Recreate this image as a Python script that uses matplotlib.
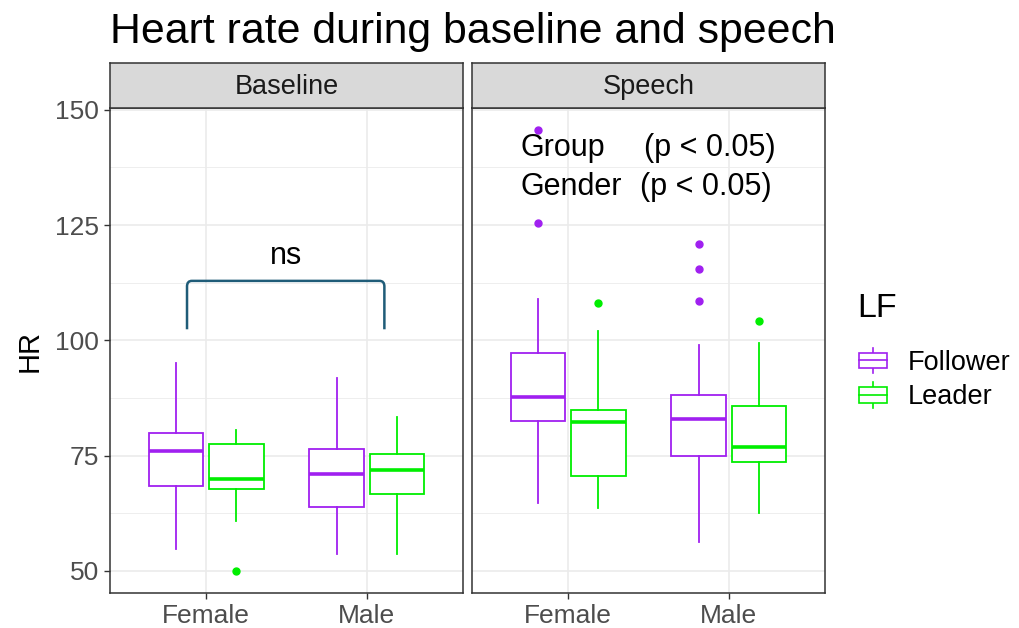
import matplotlib
matplotlib.use('Agg')
import matplotlib.pyplot as plt
from matplotlib.legend_handler import HandlerBase
from matplotlib.patches import Rectangle, Patch, PathPatch
from matplotlib.lines import Line2D
from matplotlib.path import Path

plt.rcParams['font.family'] = ['Liberation Sans', 'DejaVu Sans']

# data
phases = ['Baseline', 'Speech']
genders = ['Female', 'Male']
roles = ['Follower', 'Leader']
role_colors = ['#A020F0', '#00EE00']

# five numbers per gender: whisker low, q1, median, q3, whisker high
base_follower = [[54.8, 68.5, 75.9, 79.9, 95.1], [53.6, 63.9, 71.1, 76.5, 91.8]]
base_leader = [[60.8, 67.8, 70.0, 77.5, 80.5], [53.6, 66.6, 71.8, 75.4, 83.3]]
speech_follower = [[64.7, 82.4, 87.7, 97.2, 109.0], [56.3, 74.9, 82.9, 88.2, 98.9]]
speech_leader = [[63.7, 70.5, 82.2, 84.8, 102.1], [62.6, 73.6, 76.9, 85.7, 99.5]]

base_follower_out = [[], []]
base_leader_out = [[50.0], []]
speech_follower_out = [[145.6, 125.4], [121.0, 115.5, 108.6]]
speech_leader_out = [[108.1], [104.1]]

panel_data = {
    'Baseline': [(base_follower, base_follower_out), (base_leader, base_leader_out)],
    'Speech': [(speech_follower, speech_follower_out), (speech_leader, speech_leader_out)],
}

y_ticks = [50, 75, 100, 125, 150]
y_minor = [62.5, 87.5, 112.5, 137.5]


class BoxHandler(HandlerBase):
    # legend key drawn like a little boxplot
    def create_artists(self, legend, orig_handle, xdescent, ydescent,
                       width, height, fontsize, trans):
        c = orig_handle.get_edgecolor()
        x0, y0 = -xdescent, -ydescent
        bh = height * 0.62
        by = y0 + (height - bh) / 2
        xm = x0 + width / 2
        rect = Rectangle((x0, by), width, bh, facecolor='white', edgecolor=c,
                         lw=1.2, transform=trans)
        med = Line2D([x0, x0 + width], [by + bh / 2] * 2, color=c, lw=1.2, transform=trans)
        w1 = Line2D([xm, xm], [y0, by], color=c, lw=1.2, transform=trans)
        w2 = Line2D([xm, xm], [by + bh, y0 + height], color=c, lw=1.2, transform=trans)
        return [w1, w2, rect, med]


fig = plt.figure(figsize=(10.19, 6.28), dpi=100)

ax_left = [110 / 1019, 472 / 1019]
ax_w = 353 / 1019
ax_b = 1 - 593 / 628
ax_h = 485 / 628
strip_h = 45 / 628

axes = []
for i, phase in enumerate(phases):
    ax = fig.add_axes([ax_left[i], ax_b, ax_w, ax_h])
    axes.append(ax)

    for j, (stats5, outs) in enumerate(panel_data[phase]):
        col = role_colors[j]
        offset = -0.1875 if j == 0 else 0.1875
        stats = []
        for g in range(len(genders)):
            lo, q1, med, q3, hi = stats5[g]
            stats.append({'whislo': lo, 'q1': q1, 'med': med, 'q3': q3,
                          'whishi': hi, 'fliers': outs[g]})
        ax.bxp(stats, positions=[k + 1 + offset for k in range(len(genders))],
               widths=0.34, showcaps=False, patch_artist=True, manage_ticks=False,
               boxprops=dict(facecolor='white', edgecolor=col, lw=1.3),
               medianprops=dict(color=col, lw=2.6),
               whiskerprops=dict(color=col, lw=1.3),
               flierprops=dict(marker='o', markersize=5, markerfacecolor=col,
                               markeredgecolor=col))

    ax.set_xlim(0.4, 2.6)
    ax.set_ylim(45.2, 150.4)
    ax.set_yticks(y_ticks)
    ax.set_yticks(y_minor, minor=True)
    ax.set_xticks([1, 2])
    ax.set_xticklabels(genders)
    ax.grid(which='major', color='#EBEBEB', lw=1.2, zorder=0)
    ax.grid(which='minor', axis='y', color='#EBEBEB', lw=0.6, zorder=0)
    ax.set_axisbelow(True)
    for s in ax.spines.values():
        s.set_color('#333333')
        s.set_linewidth(1.1)
    ax.tick_params(axis='both', which='major', length=4, width=1.0, color='#333333',
                   labelsize=19, labelcolor='#4D4D4D', pad=4)
    ax.tick_params(axis='y', which='minor', length=0)
    if i > 0:
        ax.tick_params(axis='y', which='major', left=False, labelleft=False)

    # facet strip
    sax = fig.add_axes([ax_left[i], ax_b + ax_h, ax_w, strip_h])
    sax.set_facecolor('#D9D9D9')
    sax.set_xticks([])
    sax.set_yticks([])
    for s in sax.spines.values():
        s.set_color('#333333')
        s.set_linewidth(1.1)
    sax.text(0.5, 0.47, phase, ha='center', va='center', fontsize=19.5, color='#1A1A1A',
             transform=sax.transAxes)

# bracket with "ns" in baseline panel
ax = axes[0]
xl, xr, yb, yt = 0.88, 2.11, 102.4, 112.9
rx, ry = 0.03, 1.2
verts = [(xl, yb), (xl, yt - ry), (xl, yt), (xl + rx, yt), (xr - rx, yt),
         (xr, yt), (xr, yt - ry), (xr, yb)]
codes = [Path.MOVETO, Path.LINETO, Path.CURVE3, Path.CURVE3, Path.LINETO,
         Path.CURVE3, Path.CURVE3, Path.LINETO]
ax.add_patch(PathPatch(Path(verts, codes), facecolor='none', edgecolor='#1F5C78', lw=1.8))
ax.text(1.495, 118.4, 'ns', ha='center', va='center', fontsize=22, color='black')

# stats text in speech panel
ax = axes[1]
ax.text(0.70, 141.7, 'Group', ha='left', va='center', fontsize=22, color='black')
ax.text(1.47, 141.7, '(p < 0.05)', ha='left', va='center', fontsize=22, color='black')
ax.text(0.70, 133.2, 'Gender', ha='left', va='center', fontsize=22, color='black')
ax.text(1.45, 133.2, '(p < 0.05)', ha='left', va='center', fontsize=22, color='black')

axes[0].set_ylabel('HR', fontsize=21, labelpad=8)

fig.text(110 / 1019, 1 - 32 / 628, 'Heart rate during baseline and speech',
         ha='left', va='center', fontsize=30.8)

# legend: title placed on its own, keys below
fig.text(857 / 1019, 1 - 309 / 628, 'LF', ha='left', va='center', fontsize=24.5)
handles = [Patch(facecolor='white', edgecolor=c) for c in role_colors]
fig.legend(handles, roles, handler_map={Patch: BoxHandler()},
           loc='center left', bbox_to_anchor=(859 / 1019, 1 - 379 / 628),
           frameon=False, fontsize=19.5, borderpad=0, borderaxespad=0,
           handlelength=1.05, handleheight=1.05, handletextpad=0.75, labelspacing=0.25)

fig.savefig('out.png', dpi=100)
